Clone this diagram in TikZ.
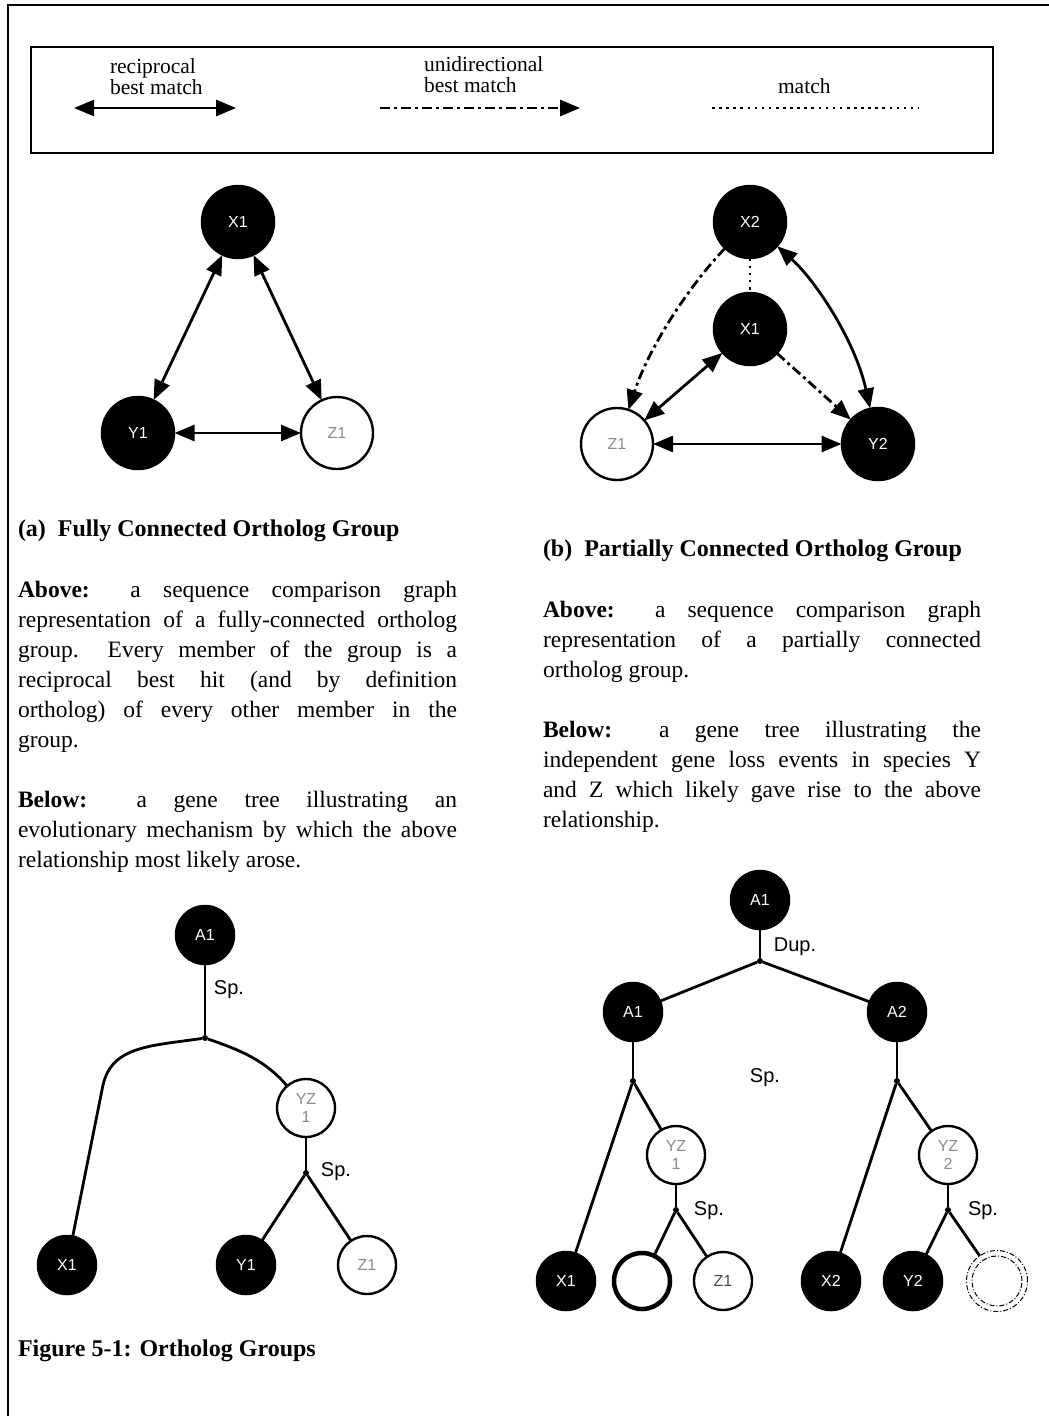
\documentclass[tikz,border=0pt]{standalone}
\usepackage{fontspec}
\setmainfont{Liberation Serif}
\setsansfont{Liberation Sans}
\usetikzlibrary{arrows.meta}

\begin{document}
\begin{tikzpicture}[x=1pt,y=-1pt,
  every node/.style={inner sep=0pt, outer sep=0pt},
  lbl/.style={font=\sffamily\fontsize{16}{18}\selectfont},
  full/.style={circle, fill=black, draw=black, line width=1.5pt, minimum size=73pt, text=white, lbl},
  hollow/.style={circle, fill=white, draw=black, line width=2.4pt, minimum size=72pt, text=black!45, lbl},
  tfull/.style={full, minimum size=59pt},
  thollow/.style={hollow, minimum size=58pt, align=center},
  jdot/.style={circle, fill=black, minimum size=6pt},
  link/.style={line width=2.8pt},
  bigtip/.tip={Triangle[length=20pt,width=16pt]},
  recip/.style={link, bigtip-bigtip},
  uni/.style={link, -bigtip, dash pattern=on 10pt off 4pt on 3pt off 4pt},
  matchline/.style={line width=2.6pt, dash pattern=on 2.6pt off 4.5pt},
  branch/.style={line width=2.8pt},
  evt/.style={font=\sffamily\fontsize{20}{22}\selectfont},
  legtxt/.style={font=\fontsize{21.5}{21}\selectfont, align=left},
  head/.style={font=\bfseries\fontsize{24}{28}\selectfont, anchor=west},
  para/.style={font=\fontsize{23.5}{30}\selectfont, text width=439pt, align=justify, anchor=north west}
]
\useasboundingbox (0,0) rectangle (1049,1416);

% outer frame (top and left edges only)
\draw[line width=2.8pt] (8,1416) -- (8,5) -- (1049,5);

% legend
\draw[line width=2.8pt] (31,47) rectangle (993,153);
\node[legtxt, anchor=north west] (lrec) at (110,59) {reciprocal\\best match};
\node[legtxt, anchor=north west] (luni) at (424,57) {unidirectional\\best match};
\node[legtxt, anchor=north west] (lmat) at (778,79) {match};
\coordinate (la) at (74,108);  \coordinate (lb) at (236,108);
\coordinate (lc) at (380,108); \coordinate (ld) at (580,108);
\coordinate (le) at (712,108); \coordinate (lf) at (918,108);
\draw[recip] (la) -- (lb);
\draw[uni] (lc) -- (ld);
\draw[matchline] (le) -- (lf);

% (a) comparison graph
\node[full]   (ax1) at (238,222) {X1};
\node[full]   (ay1) at (138,433) {Y1};
\node[hollow] (az1) at (337,433) {Z1};
\draw[recip] (ax1) -- (ay1);
\draw[recip] (ax1) -- (az1);
\draw[recip] (ay1) -- (az1);

% (b) comparison graph
\node[full]   (bx2) at (750,222) {X2};
\node[full]   (bx1) at (750,329) {X1};
\node[hollow] (bz1) at (617,444) {Z1};
\node[full]   (by2) at (878,444) {Y2};
\draw[uni] (bx2) .. controls (690,285) and (650,345) .. (bz1);
\draw[recip] (bx2) .. controls (815,280) and (855,340) .. (by2);
\draw[matchline] (bx2) -- (bx1);
\draw[recip] (bx1) -- (bz1);
\draw[uni] (bx1) -- (by2);
\draw[recip] (bz1) -- (by2);

% captions and text
\node[head] (capa) at (18,531) {(a)\ \ Fully Connected Ortholog Group};
\node[para] (pa1) at (18,581) {\textbf{Above:} a sequence comparison graph\linebreak representation of a fully-connected ortholog\linebreak group.\ \ Every member of the group is a\linebreak reciprocal best hit (and by definition\linebreak ortholog) of every other member in the\linebreak group.};
\node[para] (pa2) at (18,791) {\textbf{Below:} a gene tree illustrating an\linebreak evolutionary mechanism by which the above\linebreak relationship most likely arose.};

\node[head] (capb) at (543,551) {(b)\ \ Partially Connected Ortholog Group};
\node[para, text width=438pt] (pb1) at (543,601) {\textbf{Above:} a sequence comparison graph\linebreak representation of a partially connected\linebreak ortholog group.};
\node[para, text width=438pt] (pb2) at (543,721) {\textbf{Below:} a gene tree illustrating the\linebreak independent gene loss events in species Y\linebreak and Z which likely gave rise to the above\linebreak relationship.};

\node[head] (fig) at (18,1351) {Figure 5-1: Ortholog Groups};

% (a) gene tree
\node[tfull]   (ta1) at (205,935) {A1};
\node[jdot]    (tja) at (205,1038) {};
\node[thollow] (tyz) at (306,1108) {YZ\\1};
\node[jdot]    (tjb) at (306,1173) {};
\node[tfull]   (tx1) at (67,1265) {X1};
\node[tfull]   (ty1) at (246,1265) {Y1};
\node[thollow] (tz1) at (367,1265) {Z1};
\draw[branch] (ta1) -- (tja);
\draw[branch] (tja) .. controls (150,1046) and (112,1046) .. (103,1085) -- (tx1);
\draw[branch] (tja) .. controls (240,1050) and (265,1060) .. (tyz);
\draw[branch] (tyz) -- (tjb);
\draw[branch] (tjb) -- (ty1);
\draw[branch] (tjb) -- (tz1);
\node[evt] (spa1) at (229,990) {Sp.};
\node[evt] (spa2) at (336,1172) {Sp.};

% (b) gene tree
\node[tfull]   (ua0) at (760,900) {A1};
\node[jdot]    (ujd) at (760,961) {};
\node[tfull]   (ua1) at (633,1012) {A1};
\node[tfull]   (ua2) at (897,1012) {A2};
\node[jdot]    (ujl) at (633,1081) {};
\node[jdot]    (ujr) at (897,1081) {};
\node[thollow] (uyz1) at (676,1155) {YZ\\1};
\node[thollow] (uyz2) at (948,1155) {YZ\\2};
\node[jdot]    (ujl2) at (676,1210) {};
\node[jdot]    (ujr2) at (948,1210) {};
\node[tfull]   (ux1) at (566,1281) {X1};
\node[hollow, minimum size=56pt, line width=4.5pt] (ue1) at (642,1281) {};
\node[thollow, text=black!70] (uz1) at (723,1281) {Z1};
\node[tfull]   (ux2) at (831,1281) {X2};
\node[tfull]   (uy2) at (913,1281) {Y2};
\node[circle, draw=black, line width=1pt, minimum size=61pt, dash pattern=on 5pt off 2pt on 1pt off 2pt] (ue2) at (997,1281) {};
\draw[line width=1pt, dash pattern=on 5pt off 2pt on 1pt off 2pt] (ue2.center) circle[radius=25pt];

\draw[branch] (ua0) -- (ujd);
\draw[branch] (ujd) -- (ua1);
\draw[branch] (ujd) -- (ua2);
\draw[branch] (ua1) -- (ujl);
\draw[branch] (ua2) -- (ujr);
\draw[branch] (ujl) -- (ux1);
\draw[branch] (ujl) -- (uyz1);
\draw[branch] (uyz1) -- (ujl2);
\draw[branch] (ujl2) -- (ue1);
\draw[branch] (ujl2) -- (uz1);
\draw[branch] (ujr) -- (ux2);
\draw[branch] (ujr) -- (uyz2);
\draw[branch] (uyz2) -- (ujr2);
\draw[branch] (ujr2) -- (uy2);
\draw[branch] (ujr2) -- (ue2);
\node[evt] (dup) at (795,947) {Dup.};
\node[evt] (spb1) at (765,1078) {Sp.};
\node[evt] (spb2) at (709,1211) {Sp.};
\node[evt] (spb3) at (983,1211) {Sp.};
\end{tikzpicture}
\end{document}
